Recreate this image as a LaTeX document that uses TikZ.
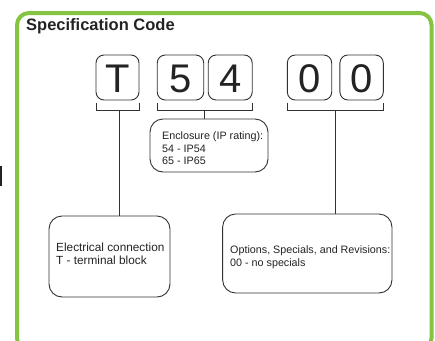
\documentclass[tikz,border=0pt]{standalone}
\usepackage{fontspec}
\setmainfont{Liberation Sans}
\definecolor{framegreen}{RGB}{132,196,64}
\definecolor{ink}{RGB}{35,35,35}
\definecolor{lineink}{RGB}{50,50,50}
\begin{document}
\begin{tikzpicture}[x=1pt,y=-1pt,
  digitbox/.style={draw=lineink,line width=0.9pt,rounded corners=8pt,minimum height=45pt,inner sep=0pt},
  digit/.style={text=ink,font=\fontsize{40}{40}\selectfont,anchor=base,inner sep=0pt},
  infobox/.style={draw=lineink,line width=0.9pt,rounded corners=13pt,inner sep=0pt},
  infotext/.style={text=ink,anchor=base west,inner sep=0pt,font=\fontsize{10.75}{13}\selectfont},
  infotextb/.style={text=ink,anchor=base west,inner sep=0pt,font=\fontsize{11.8}{13}\selectfont},
  link/.style={draw=lineink,line width=0.9pt}]
\useasboundingbox (0,0) rectangle (435,340);
\fill[white] (0,0) rectangle (435,340);
\begin{scope}
\clip (0,0) rectangle (435,340);
\draw[framegreen,line width=4pt,rounded corners=12pt] (17,13) rectangle (431.5,350);
\end{scope}
\fill[ink] (0,166) rectangle (2.2,186);
\node[anchor=base west,inner sep=0pt,text=ink,font=\fontsize{16.5}{18}\selectfont\bfseries] (title) at (26,30) {Specification Code};
% digit boxes
\node[digitbox,minimum width=43pt] (bT) at (117.5,77.5) {};
\node[digitbox,minimum width=46.5pt] (b5) at (180.5,77.5) {};
\node[digitbox,minimum width=44pt] (b4) at (230.2,77.5) {};
\node[digitbox,minimum width=44.4pt] (b0a) at (309.5,77.5) {};
\node[digitbox,minimum width=43.4pt] (b0b) at (361.6,77.5) {};
\node[digit] (dT) at (117.5,92) {T};
\node[digit] (d5) at (180.5,92) {5};
\node[digit] (d4) at (230.2,92) {4};
\node[digit] (d0a) at (309.5,92) {0};
\node[digit] (d0b) at (361.6,92) {0};
% brackets
\coordinate (kT) at (119,110);
\coordinate (k54) at (204.3,110);
\coordinate (k00) at (335.3,110);
\draw[link] (96,102.5) -- (96,110) -- (139,110) -- (139,102.5);
\draw[link] (157,102.5) -- (157,110) -- (252,110) -- (252,102.5);
\draw[link] (287.3,102.5) -- (287.3,110) -- (383.3,110) -- (383.3,102.5);
% info boxes
\node[infobox,minimum width=118pt,minimum height=53pt] (enc) at (209,145.5) {};
\node[infobox,minimum width=121pt,minimum height=81pt] (elec) at (109.5,256.5) {};
\node[infobox,minimum width=169.3pt,minimum height=79pt] (opt) at (307.3,253.5) {};
\draw[link] (kT) -- (kT |- elec.north);
\draw[link] (k54) -- (k54 |- enc.north);
\draw[link] (k00) -- (k00 |- opt.north);
% texts
\node[infotext] (e1) at (162,139.5) {Enclosure (IP rating):};
\node[infotext] (e2) at (162,152) {54 - IP54};
\node[infotext] (e3) at (162,164.5) {65 - IP65};
\node[infotextb] (l1) at (56,251.5) {Electrical connection};
\node[infotextb] (l2) at (56,264.5) {T - terminal block};
\node[infotext] (o1) at (230,253) {Options, Specials, and Revisions:};
\node[infotext] (o2) at (230,266) {00 - no specials};
\end{tikzpicture}
\end{document}
